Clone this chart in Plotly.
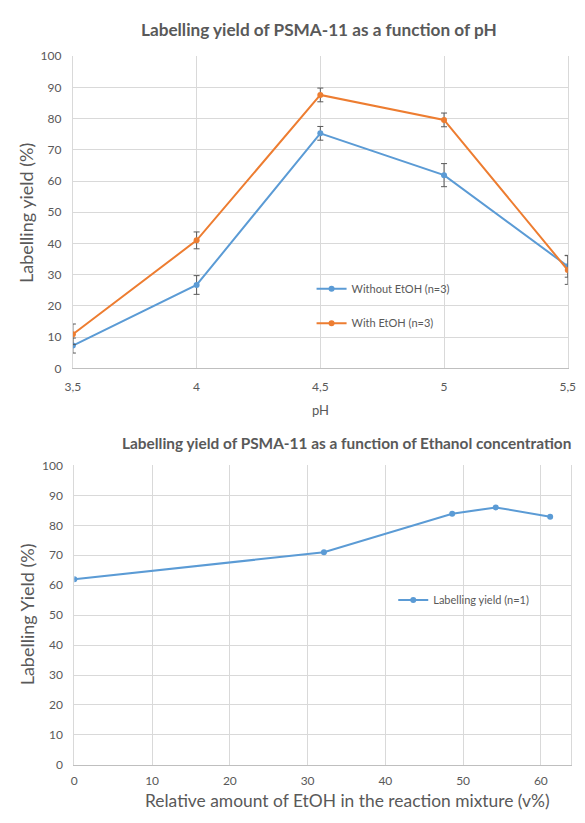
import plotly.graph_objects as go

# ---- data: top chart (pH) ----
ph_values = [3.5, 4, 4.5, 5, 5.5]
ph_ticklabels = ["3,5", "4", "4,5", "5", "5,5"]
yield_without_etoh = [7.3, 26.7, 75.3, 61.9, 32.7]
err_without_etoh = [2.4, 3.0, 2.2, 3.7, 3.5]
yield_with_etoh = [10.9, 41.0, 87.6, 79.6, 31.5]
err_with_etoh = [3.3, 2.7, 2.2, 2.2, 4.6]

# ---- data: bottom chart (EtOH concentration) ----
etoh_percent = [0, 32.1, 48.6, 54.2, 61.2]
yield_etoh = [62.0, 71.0, 83.9, 86.0, 82.9]

y_ticks = [0, 10, 20, 30, 40, 50, 60, 70, 80, 90, 100]
x2_ticks = [0, 10, 20, 30, 40, 50, 60]

BLUE = "#5B9BD5"
ORANGE = "#ED7D31"
TXT = "#595959"
GRID = "#D9D9D9"
AXIS = "#BFBFBF"
FONT = "Lato"

# page body has an 8px default margin; keep the figure inside the window
OFF = 8
W, H = 585 - OFF, 823 - 2 * OFF

def px(x):
    return (x - OFF) / W

def py(y):
    return (H - (y - OFF)) / H

fig = go.Figure()

fig.add_trace(go.Scatter(
    x=ph_values, y=yield_without_etoh, mode="lines+markers",
    name="Without EtOH (n=3)",
    line=dict(color=BLUE, width=2), marker=dict(color=BLUE, size=6),
    error_y=dict(type="data", array=err_without_etoh, color="#595959", thickness=1, width=3),
    xaxis="x", yaxis="y", legend="legend",
))
fig.add_trace(go.Scatter(
    x=ph_values, y=yield_with_etoh, mode="lines+markers",
    name="With EtOH (n=3)",
    line=dict(color=ORANGE, width=2), marker=dict(color=ORANGE, size=6),
    error_y=dict(type="data", array=err_with_etoh, color="#595959", thickness=1, width=3),
    xaxis="x", yaxis="y", legend="legend2",
))
fig.add_trace(go.Scatter(
    x=etoh_percent, y=yield_etoh, mode="lines+markers",
    name="Labelling yield (n=1)",
    line=dict(color=BLUE, width=2), marker=dict(color=BLUE, size=6),
    xaxis="x2", yaxis="y2", legend="legend3",
))

x_common = dict(
    showgrid=True, gridcolor=GRID, gridwidth=1,
    showline=True, linecolor=AXIS, linewidth=1, mirror=False,
    zeroline=False,
    tickfont=dict(family=FONT, size=12, color=TXT),
    ticks="outside", tickcolor="rgba(0,0,0,0)",
)
y_common = dict(
    showgrid=True, gridcolor=GRID, gridwidth=1,
    showline=True, linecolor=GRID, linewidth=1, mirror=True,
    zeroline=False,
    tickfont=dict(family=FONT, size=12, color=TXT),
    ticks="outside", tickcolor="rgba(0,0,0,0)",
)

legend_common = dict(
    font=dict(family=FONT, size=11, color=TXT),
    bgcolor="rgba(0,0,0,0)", borderwidth=0,
    xanchor="left", yanchor="middle",
)

fig.update_layout(
    width=W, height=H,
    margin=dict(l=0, r=0, t=0, b=0),
    paper_bgcolor="white", plot_bgcolor="white",
    font=dict(family=FONT, color=TXT),
    xaxis=dict(x_common, domain=[px(66.5), px(575.5)], range=[3.5, 5.5],
               tickvals=ph_values, ticktext=ph_ticklabels, ticklen=7, anchor="y"),
    yaxis=dict(y_common, domain=[py(367), py(49)], range=[0, 100],
               tickvals=y_ticks, ticklen=8, anchor="x"),
    xaxis2=dict(x_common, domain=[px(68), px(579)], range=[0, 63.9],
                tickvals=x2_ticks, ticklen=5, anchor="y2"),
    yaxis2=dict(y_common, domain=[py(771), py(466)], range=[0, 100],
                tickvals=y_ticks, ticklen=8, anchor="x2"),
    legend=dict(legend_common, x=px(354 - 42), y=py(286)),
    legend2=dict(legend_common, x=px(354 - 42), y=py(321)),
    legend3=dict(legend_common, x=px(438 - 42), y=py(603)),
    showlegend=True,
)

annotations = [
    dict(text="<b>Labelling yield of PSMA-11 as a function of pH</b>",
         x=px(320), y=py(22), font=dict(family=FONT, size=17.2, color=TXT)),
    dict(text="<b>Labelling yield of PSMA-11 as a function of Ethanol concentration</b>",
         x=px(348), y=py(443), font=dict(family=FONT, size=15.4, color=TXT)),
    dict(text="Labelling yield (%)", textangle=-90,
         x=px(19), y=py(209), font=dict(family=FONT, size=18, color=TXT)),
    dict(text="pH", x=px(321), y=py(409), font=dict(family=FONT, size=13, color=TXT)),
    dict(text="Labelling Yield (%)", textangle=-90,
         x=px(19), y=py(618), font=dict(family=FONT, size=18, color=TXT)),
    dict(text="Relative amount of EtOH in the reaction mixture (v%)",
         x=px(349), y=py(807), font=dict(family=FONT, size=17.4, color=TXT)),
]
for a in annotations:
    a.update(xref="paper", yref="paper", showarrow=False, xanchor="center", yanchor="middle")
fig.update_layout(annotations=annotations)

fig.write_html("out.html")
